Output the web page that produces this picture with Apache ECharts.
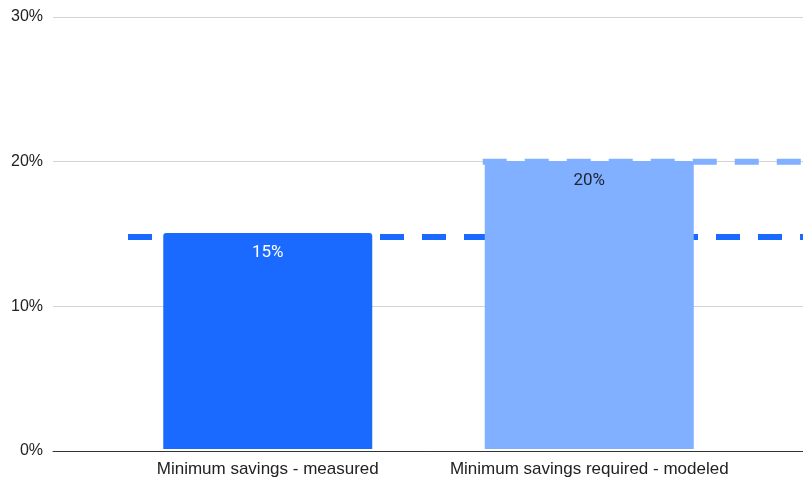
<!DOCTYPE html>
<html>
<head>
<meta charset="utf-8">
<style>
  html, body { margin: 0; padding: 0; background: #ffffff; }
  #chart { width: 803px; height: 478px; }
</style>
<script src="https://cdn.jsdelivr.net/npm/echarts@6/dist/echarts.min.js"></script>
</head>
<body>
<div id="chart"></div>
<script>
// Savings categories and their bar values (percent)
const categories = ['Minimum savings - measured', 'Minimum savings required - modeled'];
const savingsValues = [15, 20];
const barColors = ['#1a6aff', '#80b0ff'];
const labelColors = ['#ffffff', '#1e2433'];

// Reference levels drawn as dashed lines: [start, end] along the plot width (0-100) and level
const measuredLineSpan = [10, 100];
const measuredLevel = 14.8;
const modeledLineSpan = [57.3, 100];
const modeledLevel = 20;

// Value axis ticks
const yMin = 0, yMax = 30, yStep = 10;

const chart = echarts.init(document.getElementById('chart'), null, { renderer: 'canvas' });

const option = {
  animation: false,
  backgroundColor: '#ffffff',
  grid: [
    { left: 53, right: 0, top: 17, bottom: 27 },
    { left: 107, width: 643, top: 17, bottom: 27 }
  ],
  xAxis: [
    {
      type: 'value', gridIndex: 0, min: 0, max: 100,
      axisLine: { show: true, onZero: false, lineStyle: { color: '#333333', width: 1 } },
      axisTick: { show: false }, axisLabel: { show: false }, splitLine: { show: false }
    },
    {
      type: 'category', gridIndex: 1, data: categories,
      axisLine: { show: false }, axisTick: { show: false },
      axisLabel: {
        interval: 0, hideOverlap: false,
        color: '#222222', fontSize: 17, fontFamily: 'Liberation Sans, Arial, sans-serif', margin: 12
      }
    }
  ],
  yAxis: [
    {
      type: 'value', gridIndex: 0, min: yMin, max: yMax, interval: yStep,
      axisLine: { show: false }, axisTick: { show: false },
      axisLabel: { formatter: '{value}%', color: '#222222', fontSize: 16, fontFamily: 'Liberation Sans, Arial, sans-serif', margin: 10 },
      splitLine: { lineStyle: { color: '#d3d3d3', width: 1 } }
    },
    {
      type: 'value', gridIndex: 1, min: yMin, max: yMax, interval: yStep, show: false,
      splitLine: { show: false }
    }
  ],
  series: [
    {
      type: 'line', xAxisIndex: 0, yAxisIndex: 0, z: 1,
      data: measuredLineSpan.map(x => [x, measuredLevel]),
      symbol: 'none', silent: true,
      lineStyle: { color: barColors[0], width: 6, type: [24, 18], cap: 'butt' }
    },
    {
      type: 'bar', xAxisIndex: 1, yAxisIndex: 1, z: 2,
      barWidth: 209,
      data: savingsValues.map((v, i) => ({
        value: v,
        itemStyle: { color: barColors[i], borderRadius: [3, 3, 0, 0] },
        label: { color: labelColors[i] }
      })),
      label: {
        show: true, position: 'insideTop', distance: 11,
        formatter: p => p.value + '%',
        fontSize: 17, fontFamily: 'Roboto, sans-serif'
      }
    },
    {
      type: 'line', xAxisIndex: 0, yAxisIndex: 0, z: 3,
      data: modeledLineSpan.map(x => [x, modeledLevel]),
      symbol: 'none', silent: true,
      lineStyle: { color: barColors[1], width: 6, type: [24, 18], cap: 'butt' }
    }
  ]
};

chart.setOption(option);
</script>
</body>
</html>
